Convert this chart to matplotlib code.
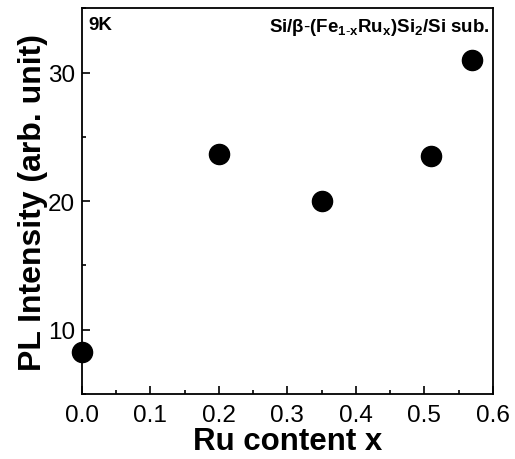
import matplotlib
matplotlib.use('Agg')
import matplotlib.pyplot as plt
from matplotlib.ticker import MultipleLocator

plt.rcParams['font.family'] = ['Liberation Sans', 'DejaVu Sans']
plt.rcParams['mathtext.fontset'] = 'custom'
plt.rcParams['mathtext.rm'] = 'Liberation Sans'
plt.rcParams['mathtext.bf'] = 'Liberation Sans:bold'
plt.rcParams['mathtext.it'] = 'Liberation Sans:italic'

# Ru content vs PL intensity at 9K
ru_content = [0.0, 0.2, 0.35, 0.51, 0.57]
pl_intensity = [8.3, 23.7, 20.0, 23.5, 31.0]

fig = plt.figure(figsize=(5.15, 4.6), dpi=100)
ax = fig.add_axes([0.159, 0.141, 0.798, 0.839])

ax.plot(ru_content, pl_intensity, 'o', color='black', markersize=14.5, clip_on=False, zorder=3)

ax.set_xlim(0.0, 0.6)
ax.set_ylim(5, 35)
ax.xaxis.set_major_locator(MultipleLocator(0.1))
ax.xaxis.set_minor_locator(MultipleLocator(0.05))
ax.yaxis.set_major_locator(MultipleLocator(10))
ax.yaxis.set_minor_locator(MultipleLocator(5))
ax.tick_params(which='both', direction='in', top=False, right=False, labelsize=17.5, width=1.2)
ax.tick_params(which='major', length=6)
ax.tick_params(which='minor', length=3)
ax.tick_params(axis='x', which='major', pad=7)
ax.tick_params(axis='y', which='major', pad=5)
for s in ax.spines.values():
    s.set_linewidth(1.3)

ax.set_xlabel('Ru content x', fontsize=22.5, fontweight='bold', labelpad=0)
ax.set_ylabel('PL Intensity (arb. unit)', fontsize=23, fontweight='bold', labelpad=0)

ax.text(0.015, 0.98, '9K', transform=ax.transAxes, fontsize=13.5, fontweight='bold',
        ha='left', va='top')
ax.text(0.993, 0.98, r'$\mathbf{Si/\beta\text{-}(Fe_{1\text{-}x}Ru_x)Si_2/Si\ sub.}$',
        transform=ax.transAxes, fontsize=13.5, ha='right', va='top')

fig.savefig('out.png', dpi=100)
